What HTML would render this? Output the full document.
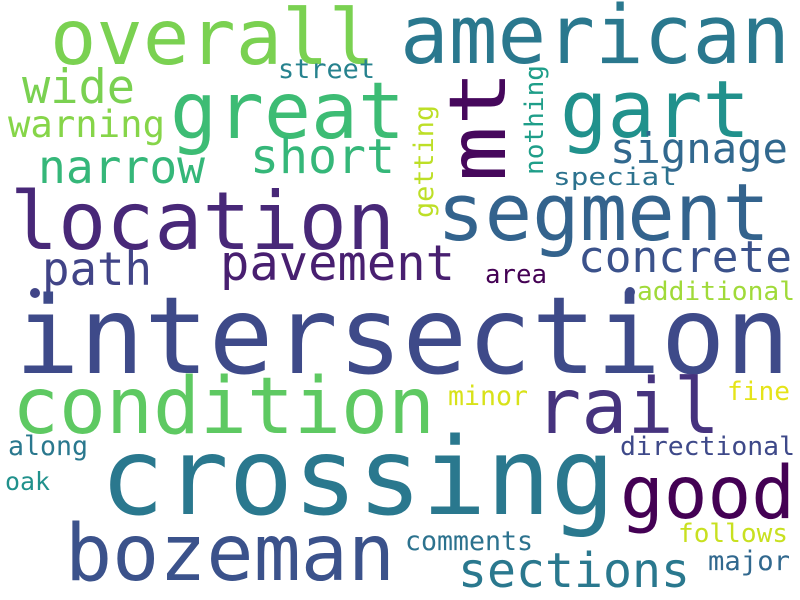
<!DOCTYPE html>
<html><head><meta charset="utf-8"><style>
html,body{margin:0;padding:0;background:#fff;}
svg{display:block;}
text{font-family:"DejaVu Sans Mono","Liberation Mono",monospace;}
</style></head><body>
<svg id="cloud" width="800" height="600" viewBox="0 0 800 600"></svg>
<script>
const words=["overall","american","great","gart","mt","wide","warning","narrow","short","signage","street","nothing","getting","special","location","segment","concrete","path","pavement","area","additional","intersection","condition","rail","minor","fine","directional","along","oak","crossing","good","bozeman","comments","sections","follows","major"];
const sizes=[77,81,78,79,78,47,37,46,48,42,27,26,27,24,80,79,44,46,49,26,26,107,78,77,27,26,26,27,25,107,73,78,27,48,26,27];
const xs=[50,400,170,560,505,22,8,38,250,610,278,543,433,553,10,437,578,42,220,485,637,15,12,535,448,727,620,8,5,100,620,65,405,458,678,708];
const ys=[64,63,138,137,182,103,137,183,173,163,78,175,218,185,249,240,272,285,280,283,300,373,433,433,405,400,455,455,490,514,518,580,550,587,542,570];
const widths=[325,390,235,190,112,113,157,167,145,178,97,110,113,124,385,333,214,110,235,62,158,775,423,185,80,63,175,80,45,515,175,330,128,232,110,82];
const rot=[0,0,0,0,1,0,0,0,0,0,0,1,1,0,0,0,0,0,0,0,0,0,0,0,0,0,0,0,0,0,0,0,0,0,0,0];
const colors=["#7ad151","#2a788e","#3dbc74","#21918c","#46085c","#7ad151","#86d549","#35b779","#35b779","#31688e","#26828e","#1f9e89","#bddf26","#2c728e","#482878","#33638d","#3b528b","#414487","#481f70","#440154","#a0da39","#3e4a89","#5ec962","#46337e","#d8e219","#e5e419","#3e4989","#2a788e","#21918c","#2a788e","#440154","#3b528b","#2c728e","#2a788e","#c8e020","#31688e"];
const svg=document.getElementById('cloud');
const NS="http://www.w3.org/2000/svg";
for(let i=0;i<words.length;i++){
  const t=document.createElementNS(NS,'text');
  
  
  t.setAttribute('x',rot[i]?0:xs[i]);
  t.setAttribute('y',rot[i]?0:ys[i]);
  if(rot[i]) t.setAttribute('transform','translate('+xs[i]+','+ys[i]+') rotate(-90)');
  t.setAttribute('font-size',sizes[i]);
  t.setAttribute('fill',colors[i]);
  t.setAttribute('textLength',widths[i]);
  t.setAttribute('lengthAdjust','spacingAndGlyphs');
  t.textContent=words[i];
  svg.appendChild(t);
}
[[35,293,"#414487"],[630,292,"#3e4a89"]].forEach(function(d){
  const c=document.createElementNS(NS,'circle');
  
  
  c.setAttribute('cx',d[0]);c.setAttribute('cy',d[1]);c.setAttribute('r',5);c.setAttribute('fill',d[2]);
  svg.appendChild(c);
});
</script>
</body></html>
